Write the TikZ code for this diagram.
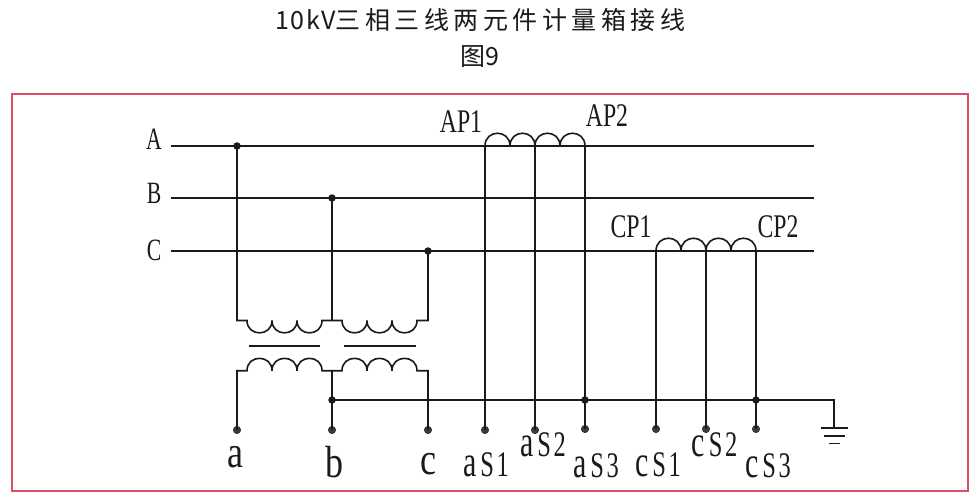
\documentclass[tikz,border=0pt]{standalone}
\usepackage{fontspec}
\usepackage{graphicx}
\setmainfont{Liberation Serif}
\newfontfamily\cjkfont[LetterSpace=18]{Noto Sans CJK SC}
\newfontfamily\latfont[LetterSpace=6]{Noto Sans CJK SC}
\newfontfamily\cjkplain{Noto Sans CJK SC}
\definecolor{framered}{HTML}{D8506A}
\definecolor{ink}{HTML}{1A1A1A}
\newcommand{\narrowtxt}[3]{\scalebox{#1}[1]{\fontsize{#2}{#2}\selectfont #3}}
\newcommand{\seclabel}[3]{\scalebox{0.68}[1]{\fontsize{44}{44}\selectfont #1\hspace{6pt}\fontsize{36}{36}\selectfont #2\hspace{4pt}#3}}
\tikzset{
  wire/.style={draw=ink,line width=1.6pt,line join=miter},
  coreline/.style={draw=ink,line width=1.7pt},
  term/.style={circle,fill=ink!85,draw=ink,line width=0.4pt,minimum size=7.5pt,inner sep=0pt},
  junct/.style={circle,fill=ink,minimum size=7.5pt,inner sep=0pt},
  lbl/.style={inner sep=0pt,text=ink},
  pt/.style={coordinate}
}
\begin{document}
\begin{tikzpicture}[x=1pt,y=-1pt]
\useasboundingbox (0,0) rectangle (977,500);
\fill[white] (0,0) rectangle (977,500);
% title
\node[lbl] (title) at (480.5,20) {\fontsize{25}{25}\latfont 10kV\fontsize{25}{25}\cjkfont 三相三线两元件计量箱接线};
\node[lbl] (fig) at (480,57) {\fontsize{25}{25}\cjkplain 图9};
% frame
\node[draw=framered,line width=1.1pt,minimum width=956pt,minimum height=397pt,inner sep=0pt] (frame) at (490,292.5) {};
% bus coordinates
\coordinate (Al) at (171,146); \coordinate (Ar) at (814,146);
\coordinate (Bl) at (171,198); \coordinate (Br) at (814,198);
\coordinate (Cl) at (171,251); \coordinate (Cr) at (814,251);
\draw[wire] (Al) -- (Ar);
\draw[wire] (Bl) -- (Br);
\draw[wire] (Cl) -- (Cr);
% bus labels
\node[lbl] (LA) at (154,139) {\narrowtxt{0.7}{31}{A}};
\node[lbl] (LB) at (154,193) {\narrowtxt{0.7}{31}{B}};
\node[lbl] (LC) at (154,250) {\narrowtxt{0.7}{31}{C}};
% junctions on buses
\node[junct] (jA) at (237,146) {};
\node[junct] (jB) at (332,198) {};
\node[junct] (jC) at (428,251) {};
% terminals
\node[term] (ta) at (237,430) {};
\node[term] (tb) at (332,430) {};
\node[term] (tc) at (428,430) {};
\node[term] (tas1) at (485,430) {};
\node[term] (tas2) at (535,430) {};
\node[term] (tas3) at (585,429) {};
\node[term] (tcs1) at (656,429) {};
\node[term] (tcs2) at (706,429) {};
\node[term] (tcs3) at (756,429) {};
% junctions on earth bus
\node[junct] (jb) at (332,400) {};
\node[junct] (j3) at (585,400) {};
\node[junct] (j6) at (756,400) {};
% PT primary
\coordinate (p1a) at (247,320.5); \coordinate (p2a) at (342,320.5);
\coordinate (pm) at (332,320.5);
\draw[wire] (jA.center) |- (p1a)
  \foreach \i in {1,2,3}{ .. controls +(0,16.5) and +(0,16.5) .. ++(25,0)} -- (p2a)
  \foreach \i in {1,2,3}{ .. controls +(0,16.5) and +(0,16.5) .. ++(25,0)} -| (jC.center);
\draw[wire] (jB.center) -- (pm);
% cores
\coordinate (c1a) at (249,345.7); \coordinate (c1b) at (320,345.7);
\coordinate (c2a) at (344,345.7); \coordinate (c2b) at (416,345.7);
\draw[coreline] (c1a) -- (c1b);
\draw[coreline] (c2a) -- (c2b);
% PT secondary
\coordinate (s1a) at (247,370.7); \coordinate (s2a) at (342,370.7);
\coordinate (sm) at (332,370.7);
\draw[wire] (ta.center) |- (s1a)
  \foreach \i in {1,2,3}{ .. controls +(0,-16.5) and +(0,-16.5) .. ++(25,0)} -- (s2a)
  \foreach \i in {1,2,3}{ .. controls +(0,-16.5) and +(0,-16.5) .. ++(25,0)} -| (tc.center);
\draw[wire] (sm) -- (tb.center);
% CT A
\coordinate (ap1) at (485,146); \coordinate (apm) at (535,146); \coordinate (ap2) at (585,146);
\draw[wire] (ap1) \foreach \i in {1,2,3,4}{ .. controls +(0,-17) and +(0,-17) .. ++(25,0)};
\draw[wire] (ap1) -- (tas1.center);
\draw[wire] (apm) -- (tas2.center);
\draw[wire] (ap2) -- (tas3.center);
% CT C
\coordinate (cp1) at (656,251); \coordinate (cpm) at (706,251); \coordinate (cp2) at (756,251);
\draw[wire] (cp1) \foreach \i in {1,2,3,4}{ .. controls +(0,-17) and +(0,-17) .. ++(25,0)};
\draw[wire] (cp1) -- (tcs1.center);
\draw[wire] (cpm) -- (tcs2.center);
\draw[wire] (cp2) -- (tcs3.center);
% earth bus
\coordinate (ge) at (834,428);
\draw[wire] (jb.center) -| (ge);
\coordinate (g1a) at (821,428); \coordinate (g1b) at (848,428);
\coordinate (g2a) at (824,436); \coordinate (g2b) at (845,436);
\coordinate (g3a) at (829,443.5); \coordinate (g3b) at (840,443.5);
\draw[coreline] (g1a) -- (g1b);
\draw[coreline] (g2a) -- (g2b);
\draw[coreline] (g3a) -- (g3b);
% CT labels
\node[lbl] (lap1) at (461,122) {\narrowtxt{0.72}{33}{AP1}};
\node[lbl] (lap2) at (607,116) {\narrowtxt{0.72}{33}{AP2}};
\node[lbl] (lcp1) at (631,227) {\narrowtxt{0.72}{33}{CP1}};
\node[lbl] (lcp2) at (778,227) {\narrowtxt{0.72}{33}{CP2}};
% terminal labels
\node[lbl] (la) at (235,457) {\narrowtxt{0.8}{45}{a}};
\node[lbl] (lb) at (334,462) {\narrowtxt{0.8}{45}{b}};
\node[lbl] (lc) at (428,464) {\narrowtxt{0.8}{45}{c}};
\node[lbl] (las1) at (486,465) {\seclabel{a}{S}{1}};
\node[lbl] (las2) at (543,445) {\seclabel{a}{S}{2}};
\node[lbl] (las3) at (596,466) {\seclabel{a}{S}{3}};
\node[lbl] (lcs1) at (658,465) {\seclabel{c}{S}{1}};
\node[lbl] (lcs2) at (714.5,445) {\seclabel{c}{S}{2}};
\node[lbl] (lcs3) at (768,466) {\seclabel{c}{S}{3}};
\end{tikzpicture}
\end{document}
